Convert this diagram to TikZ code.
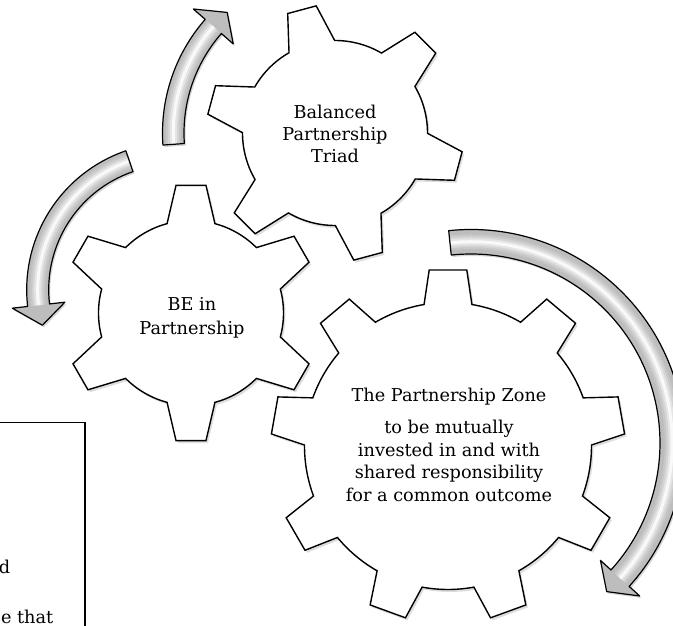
\documentclass[tikz,border=0pt]{standalone}
\usepackage{fontspec}
\newfontfamily\gfont{DejaVu Serif}
\tikzset{
  gearbody/.style={draw=black, line width=1.4pt, fill=white, line join=miter},
  gearshade/.style={fill=black, fill opacity=0.13, shift={(2,2.5)}},
  lbl/.style={font=\gfont\fontsize{17.7}{22}\selectfont, inner sep=0pt, anchor=base},
  boxline/.style={draw=black, line width=1.1pt},
  arrowfill/.style={fill=gray!52},
  arrowline/.style={draw=black, line width=1.2pt, line join=round},
  arrowshade/.style={fill=black, fill opacity=0.16, shift={(1.5,2)}}
}
% #1 style, #2 cx, #3 cy, #4 outer R, #5 body r, #6 teeth, #7 first tooth angle, #8 tip half angle, #9 base half angle
\newcommand\gearshape[9]{%
  \begin{scope}[shift={(#2,#3)}]
    \pgfmathsetmacro\gstep{360/#6}
    \pgfmathtruncatemacro\glast{#6-1}
    \path[#1] ({#7-#9}:#5) \foreach \k in {0,...,\glast} {
       -- ({#7+\k*\gstep-#8}:#4) -- ({#7+\k*\gstep+#8}:#4) -- ({#7+\k*\gstep+#9}:#5)
       arc[start angle={#7+\k*\gstep+#9}, end angle={#7+(\k+1)*\gstep-#9}, radius=#5]
    } -- cycle;
  \end{scope}}
% #1 cx, #2 cy, #3 inner r, #4 outer r, #5 tail angle, #6 head base angle, #7 tip angle
\newcommand\bentarrow[7]{%
  \begin{scope}[shift={(#1,#2)}]
    \pgfmathsetmacro\amid{(#3+#4)/2}
    \def\apath{({#5}:{#4}) arc[start angle=#5, end angle=#6, radius=#4]
      -- ({#6}:{\amid+26.5}) -- ({#7}:{\amid}) -- ({#6}:{\amid-26.5})
      -- ({#6}:{#3}) arc[start angle=#6, end angle=#5, radius=#3] -- cycle}
    \path[arrowshade] \apath;
    \path[arrowfill] \apath;
    \begin{scope}
      \clip \apath;
      \foreach \w/\c in {15/44, 11/34, 7/20, 3/5}
        \draw[gray!\c, line width=\w pt] ({#5}:{\amid}) arc[start angle=#5, end angle=#6, radius=\amid];
    \end{scope}
    \path[arrowline] \apath;
  \end{scope}}
\begin{document}
\begin{tikzpicture}[x=1pt, y=1pt, yscale=-1]
\useasboundingbox (0,0) rectangle (673,626);
\clip (0,0) rectangle (673,626);

% text box (partly outside the picture)
\path[boxline] (-5,422.7) -- (85,422.7) -- (85,640);
\node[lbl, anchor=base east] (boxa) at (10.5,573.3) {d};
\node[lbl, anchor=base east] (boxb) at (53.5,623) {e that};

% gears
\gearshape{gearshade}{335}{133}{128.5}{92.5}{6}{15}{6.6}{14.8}
\gearshape{gearbody}{335}{133}{128.5}{92.5}{6}{15}{6.6}{14.8}
\gearshape{gearshade}{191}{313}{128.5}{92.5}{6}{90}{6.7}{15}
\gearshape{gearbody}{191}{313}{128.5}{92.5}{6}{90}{6.7}{15}
\gearshape{gearshade}{448}{446}{177}{143.5}{9}{-90}{6.1}{9.6}
\gearshape{gearbody}{448}{446}{177}{143.5}{9}{-90}{6.1}{9.6}

% curved arrows
\bentarrow{335}{133}{151}{172.5}{176}{221.2}{228.2}
\bentarrow{173.7}{289.8}{125}{147}{251}{173.5}{164.9}
\bentarrow{471}{443}{189}{213.5}{-96}{42.2}{47.6}

% labels
\node[lbl] (bal1) at (335,118) {Balanced};
\node[lbl] (bal2) at (335,140.5) {Partnership};
\node[lbl] (bal3) at (335,163) {Triad};

\node[lbl] (be1) at (192,310) {BE in};
\node[lbl] (be2) at (192,334) {Partnership};

\node[lbl] (pz0) at (449,401) {The Partnership Zone};
\node[lbl] (pz1) at (449,433.5) {to be mutually};
\node[lbl] (pz2) at (449,456) {invested in and with};
\node[lbl] (pz3) at (449,478.5) {shared responsibility};
\node[lbl] (pz4) at (449,501) {for a common outcome};
\end{tikzpicture}
\end{document}
